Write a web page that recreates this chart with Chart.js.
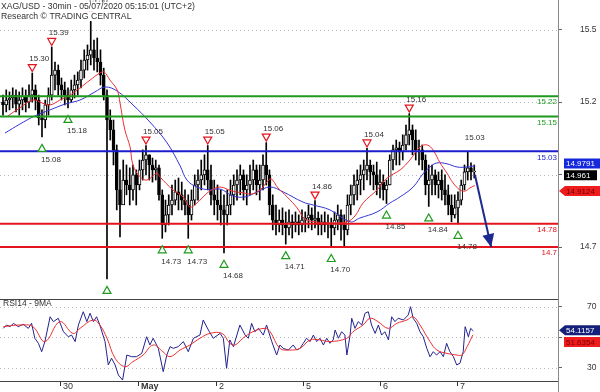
<!DOCTYPE html>
<html>
<head>
<meta charset="utf-8">
<script src="https://cdn.jsdelivr.net/npm/chart.js@4"></script>
<style>
  html, body { margin: 0; padding: 0; background: #fff; }
  #wrap { position: relative; width: 600px; height: 392px; overflow: hidden; background: #fff; }
  canvas { position: absolute; left: 0; }
  #main { top: 0; }
  #rsi { top: 299px; }
</style>
</head>
<body>
<div id="wrap">
  <canvas id="main" width="600" height="299"></canvas>
  <canvas id="rsi" width="600" height="93"></canvas>
</div>
<script>
// hourly candles, index = hours from the left edge
const firstOpen = 15.20;
const highs = [
  15.224,15.242,15.235,15.249,15.242,15.235,15.249,15.242,15.259,15.300,
  15.259,15.224,15.173,15.207,15.249,15.390,15.338,15.328,15.283,15.269,
  15.249,15.276,15.293,15.304,15.345,15.380,15.397,15.500,15.414,15.421,
  15.380,15.317,15.242,15.173,15.138,15.052,14.966,15.000,14.983,14.973,
  14.983,14.966,15.000,15.035,15.050,15.018,15.007,15.000,14.983,14.897,
  14.862,14.880,14.914,14.931,14.938,14.924,14.897,14.880,14.897,14.949,
  14.966,15.000,15.018,15.050,14.983,14.931,14.914,14.897,14.880,14.897,
  14.931,14.949,14.966,14.983,14.966,14.949,14.983,15.000,14.983,14.983,
  15.018,15.060,14.966,14.880,14.845,14.828,14.835,14.821,14.828,14.811,
  14.821,14.811,14.828,14.821,14.845,14.835,14.860,14.821,14.811,14.821,
  14.811,14.800,14.821,14.845,14.828,14.811,14.880,14.914,14.949,14.966,
  14.983,15.000,15.040,15.000,14.983,14.993,14.966,14.949,14.931,15.018,
  15.052,15.069,15.062,15.087,15.121,15.160,15.121,15.104,15.069,15.052,
  15.018,14.983,14.983,14.966,14.959,14.966,14.949,14.914,14.880,14.880,
  14.890,14.931,14.983,15.030,14.990,14.983
];
const lows = [
  15.155,15.166,15.173,15.180,15.166,15.155,15.173,15.166,15.180,15.200,
  15.173,15.121,15.080,15.111,15.155,15.207,15.242,15.224,15.207,15.190,
  15.180,15.200,15.214,15.224,15.249,15.283,15.310,15.328,15.310,15.304,
  15.259,15.207,14.590,15.069,14.983,14.828,14.735,14.862,14.880,14.845,
  14.862,14.845,14.897,14.931,14.949,14.931,14.924,14.931,14.862,14.730,
  14.752,14.776,14.811,14.845,14.828,14.828,14.811,14.730,14.793,14.845,
  14.862,14.897,14.914,14.897,14.845,14.811,14.793,14.776,14.680,14.776,
  14.811,14.845,14.862,14.880,14.862,14.845,14.880,14.897,14.880,14.862,
  14.897,14.914,14.811,14.759,14.742,14.752,14.742,14.710,14.742,14.731,
  14.752,14.742,14.752,14.752,14.766,14.759,14.766,14.742,14.742,14.752,
  14.731,14.700,14.742,14.759,14.724,14.703,14.742,14.811,14.845,14.862,
  14.880,14.897,14.931,14.914,14.897,14.880,14.869,14.862,14.850,14.914,
  14.966,14.983,14.983,15.000,15.035,15.052,15.018,15.000,14.983,14.966,
  14.880,14.840,14.880,14.880,14.869,14.862,14.845,14.811,14.787,14.800,
  14.780,14.845,14.897,14.931,14.931,14.938
];
const closes = [
  15.190,15.207,15.214,15.224,15.193,15.207,15.221,15.200,15.224,15.242,
  15.207,15.145,15.138,15.190,15.224,15.293,15.310,15.259,15.242,15.224,
  15.207,15.242,15.259,15.276,15.310,15.345,15.362,15.380,15.352,15.338,
  15.293,15.224,15.138,15.104,15.035,14.897,14.845,14.931,14.914,14.897,
  14.949,14.914,14.966,15.000,15.018,14.983,14.966,14.973,14.880,14.776,
  14.811,14.845,14.862,14.890,14.880,14.862,14.845,14.811,14.862,14.914,
  14.931,14.949,14.966,14.931,14.880,14.862,14.845,14.828,14.811,14.845,
  14.880,14.914,14.931,14.949,14.897,14.914,14.931,14.966,14.914,14.931,
  14.983,14.949,14.845,14.793,14.776,14.793,14.776,14.766,14.787,14.776,
  14.787,14.776,14.793,14.800,14.811,14.793,14.800,14.776,14.787,14.776,
  14.776,14.766,14.793,14.811,14.776,14.759,14.845,14.880,14.914,14.931,
  14.949,14.966,14.983,14.959,14.949,14.914,14.924,14.897,14.914,15.000,
  15.035,15.042,15.028,15.052,15.087,15.104,15.069,15.035,15.035,15.000,
  14.914,14.931,14.949,14.914,14.931,14.897,14.880,14.845,14.811,14.835,
  14.862,14.914,14.959,14.973,14.959,14.961
];

// moving averages on the price panel
const redMaHour = [1.5,5.2,9.2,12.0,14.5,17.5,20.6,23.7,26.8,29.8,31.1,32.9,35.1,36.0,37.5,39.1,40.0,42.2,44.3,47.4,48.3,52.3,55.4,57.5,59.7,62.2,64.3,66.8,70.5,73.8,76.6,79.1,81.2,82.5,84.6,87.4,90.5,92.9,96.0,101.5,105.8,108.3,110.8,115.1,118.2,122.2,125.2,128.3,130.5,132.3,134.5,136.6,138.5,140.6,142.2,143.7,145.2];
const redMa = [15.152,15.180,15.207,15.197,15.190,15.207,15.224,15.249,15.276,15.300,15.304,15.276,15.242,15.197,15.104,15.045,14.983,14.942,14.931,14.955,14.942,14.897,14.873,14.838,14.852,14.880,14.897,14.907,14.893,14.887,14.883,14.897,14.924,14.935,14.904,14.873,14.835,14.797,14.787,14.783,14.787,14.807,14.852,14.897,14.938,14.966,15.000,15.045,15.052,15.035,14.990,14.955,14.921,14.897,14.893,14.904,14.912];
const blueMaHour = [0.6,5.2,9.8,14.5,19.1,23.7,28.3,31.4,35.1,40.0,45.2,50.5,54.5,56.6,59.7,63.7,66.8,70.8,74.5,78.2,82.2,86.2,92.3,95.4,100.6,106.8,109.8,115.1,119.1,122.2,126.2,129.2,131.4,133.5,136.6,139.7,142.8,145.2];
const blueMa = [15.093,15.124,15.152,15.173,15.193,15.207,15.235,15.252,15.238,15.190,15.131,15.059,14.980,14.931,14.907,14.897,14.900,14.876,14.873,14.890,14.907,14.890,14.855,14.845,14.828,14.787,14.800,14.821,14.852,14.873,14.907,14.952,14.976,14.990,14.987,14.976,14.976,14.980];

// support / resistance levels
const levels = [15.22, 15.15, 15.03, 14.78, 14.70];
const levelLabels = ['15.22', '15.15', '15.03', '14.78', '14.7'];
const levelColors = ['#1f9a1f', '#1f9a1f', '#1c1ccc', '#e3141b', '#e3141b'];

// pivot markers
const highMarkHour = [9, 15, 27, 44, 63, 81, 96, 112, 125, 143];
const highMarkValue = [15.30, 15.39, 15.50, 15.05, 15.05, 15.06, 14.86, 15.04, 15.16, 15.03];
const highMarkTriangle = [1, 1, 1, 1, 1, 1, 1, 1, 1, 0];
const lowMarkHour = [12, 20, 32, 49, 57, 68, 87, 101, 118, 131, 140];
const lowMarkValue = [15.08, 15.18, 14.59, 14.73, 14.73, 14.68, 14.71, 14.70, 14.85, 14.84, 14.78];

// forecast arrow
const arrowHour = [145.2, 150.2];
const arrowValue = [14.949, 14.70];

// price axis
const priceTicks = [15.45, 15.2, 14.95, 14.7];
const priceTickLabels = ['15.5', '15.2', '', '14.7'];
const lastBlueMa = '14.9791';
const lastPrice = '14.961';
const lastRedMa = '14.9124';

// RSI panel
const rsiHour = [0.1,1.1,2.2,3.2,4.7,6.2,7.8,8.8,9.8,10.9,11.9,12.9,14.5,15.5,17.0,18.6,20.1,21.1,22.2,23.2,24.7,25.8,26.8,27.8,28.8,29.8,31.4,32.4,33.4,34.5,35.5,36.8,38.1,39.6,41.1,42.7,44.2,45.2,46.2,47.8,49.3,50.4,51.4,52.4,53.9,55.5,57.0,58.6,60.6,61.6,63.2,64.7,66.8,67.8,68.8,69.8,70.9,72.9,74.5,75.5,76.5,77.5,78.6,80.1,81.1,82.7,84.2,85.2,86.2,87.8,89.3,90.4,91.4,92.4,93.4,94.5,95.5,96.5,97.5,98.6,99.6,100.6,101.6,102.2,103.2,104.2,105.2,105.8,106.8,107.3,108.3,109.3,110.4,111.4,112.4,113.4,114.5,115.5,116.5,117.5,118.6,119.6,120.6,121.6,123.2,124.7,125.4,126.2,127.3,128.3,129.3,130.4,131.4,132.4,133.4,134.5,135.5,136.5,137.5,138.6,139.6,140.6,141.6,142.2,143.2,143.9,144.7];
const rsiValue = [55.8,58.0,56.9,59.1,56.9,58.5,55.8,59.1,49.3,46.0,40.5,47.1,63.4,60.2,62.4,53.6,50.3,51.4,47.1,58.0,66.7,60.2,65.7,60.2,63.4,58.0,47.1,31.8,36.2,31.8,25.2,21.9,38.3,37.2,37.2,39.4,50.3,44.9,49.3,42.7,27.4,38.3,43.8,42.7,43.8,47.1,40.5,49.3,51.4,61.3,54.7,49.3,52.5,49.3,29.6,48.2,43.8,58.0,51.4,49.3,59.1,53.6,55.8,51.4,58.0,47.1,38.3,44.9,42.7,41.6,44.9,41.6,42.7,46.0,49.3,47.1,51.4,47.1,49.3,44.9,49.3,46.0,48.2,54.7,49.3,53.6,51.4,38.3,51.4,62.4,55.8,60.2,58.0,65.7,66.7,58.0,52.5,58.0,51.4,53.6,48.2,63.4,60.2,62.4,61.3,64.6,70.0,62.4,59.1,53.6,50.3,42.7,37.2,40.5,38.3,40.5,37.2,46.0,40.5,37.2,31.8,32.9,40.5,56.9,50.3,55.8,54.1];
const rsiMaHour = [0.1,5.2,9.2,12.9,17.5,21.5,23.7,27.7,29.8,32.0,34.5,37.5,40.0,43.1,46.2,49.2,51.4,54.5,57.5,60.6,63.7,67.4,69.8,71.4,73.8,76.9,80.6,82.2,85.2,88.3,91.4,94.5,97.5,100.6,105.8,107.7,110.8,112.9,115.4,118.5,121.2,124.3,126.2,128.3,131.4,133.5,136.6,139.7,141.2,142.8,144.6];
const rsiMa = [56.9,58.0,56.9,47.1,60.2,52.5,55.8,61.3,58.0,49.3,36.2,30.7,34.0,38.3,44.9,40.5,37.2,41.6,44.9,49.3,52.5,52.5,46.0,44.9,49.3,53.6,55.8,53.6,42.7,41.6,42.7,48.2,48.2,47.1,49.3,53.6,58.0,62.4,60.2,55.8,59.1,61.3,63.4,58.0,47.1,41.6,39.4,38.3,38.3,43.8,51.6];
const rsiTicks = [70, 50, 30];
const rsiTickLabels = ['70', '', '30'];
const lastRsi = '54.1157';
const lastRsiMa = '51.6354';

// time axis
const dayHours = [17.5, 41.5, 65.5, 92.3, 116, 139.7];
const dayLabels = ['30', 'May', '2', '5', '6', '7'];

const xMin = -0.92, xMax = 170.77;
const FONT = '"Liberation Sans", Arial, sans-serif';
Chart.defaults.font.family = FONT;

const opens = closes.map((c, k) => (k === 0 ? firstOpen : closes[k - 1]));
const bodyFill = closes.map((c, k) => (c > opens[k] ? '#ffffff' : '#000000'));

function noPad(s) { s.paddingTop = 0; s.paddingBottom = 0; }

function triangle(ctx, x, y, up, color) {
  ctx.beginPath();
  if (up) { ctx.moveTo(x, y - 3.5); ctx.lineTo(x + 4, y + 3.5); ctx.lineTo(x - 4, y + 3.5); }
  else { ctx.moveTo(x, y + 3.5); ctx.lineTo(x + 4, y - 3.5); ctx.lineTo(x - 4, y - 3.5); }
  ctx.closePath();
  ctx.fillStyle = '#fff';
  ctx.fill();
  ctx.lineWidth = 1.2;
  ctx.strokeStyle = color;
  ctx.stroke();
}

function tag(ctx, left, yc, text, bg, fg, pointed, w) {
  ctx.fillStyle = bg;
  ctx.beginPath();
  if (pointed) {
    ctx.moveTo(left + 1, yc);
    ctx.lineTo(left + 7, yc - 5);
    ctx.lineTo(600, yc - 5);
    ctx.lineTo(600, yc + 5);
    ctx.lineTo(left + 7, yc + 5);
  } else {
    ctx.rect(left + 6, yc - 5, w, 10);
  }
  ctx.closePath();
  ctx.fill();
  ctx.fillStyle = fg;
  ctx.font = '8px ' + FONT;
  ctx.textAlign = 'left';
  ctx.textBaseline = 'middle';
  ctx.fillText(text, left + 8, yc + 0.5);
}

function dotted(ctx, area, y) {
  ctx.save();
  ctx.strokeStyle = '#b8b8b8';
  ctx.lineWidth = 1;
  ctx.setLineDash([1, 3]);
  ctx.beginPath();
  ctx.moveTo(area.left, Math.round(y) + 0.5);
  ctx.lineTo(area.right, Math.round(y) + 0.5);
  ctx.stroke();
  ctx.restore();
}

const mainDecor = {
  id: 'mainDecor',
  beforeDatasetsDraw(chart) {
    const y = chart.scales.y;
    priceTicks.forEach(v => dotted(chart.ctx, chart.chartArea, y.getPixelForValue(v)));
  },
  afterDraw(chart) {
    const ctx = chart.ctx, x = chart.scales.x, y = chart.scales.y, area = chart.chartArea;
    ctx.save();
    // level labels
    ctx.font = '8px ' + FONT;
    ctx.textAlign = 'right';
    ctx.textBaseline = 'middle';
    levels.forEach((v, k) => {
      ctx.fillStyle = levelColors[k];
      ctx.fillText(levelLabels[k], area.right - 1, y.getPixelForValue(v) + 6);
    });
    // pivot markers
    ctx.textAlign = 'center';
    highMarkHour.forEach((h, k) => {
      const px = x.getPixelForValue(h), py = y.getPixelForValue(highMarkValue[k]);
      if (highMarkTriangle[k]) triangle(ctx, px, py - 5, false, '#e3141b');
      ctx.fillStyle = '#333';
      ctx.fillText(highMarkValue[k].toFixed(2), px + 7, py - 14);
    });
    lowMarkHour.forEach((h, k) => {
      const px = x.getPixelForValue(h), py = y.getPixelForValue(lowMarkValue[k]);
      triangle(ctx, px, py + 11, true, '#1f9a1f');
      ctx.fillStyle = '#333';
      ctx.fillText(lowMarkValue[k].toFixed(2), px + 9, py + 23);
    });
    // arrow head
    const pts = chart.getDatasetMeta(chart.data.datasets.length - 1).data;
    const a = pts[0], b = pts[1];
    const ang = Math.atan2(b.y - a.y, b.x - a.x);
    ctx.fillStyle = '#1c2a8f';
    ctx.beginPath();
    ctx.moveTo(b.x, b.y);
    ctx.lineTo(b.x - 13 * Math.cos(ang) + 6 * Math.sin(ang), b.y - 13 * Math.sin(ang) - 6 * Math.cos(ang));
    ctx.lineTo(b.x - 13 * Math.cos(ang) - 6 * Math.sin(ang), b.y - 13 * Math.sin(ang) + 6 * Math.cos(ang));
    ctx.closePath();
    ctx.fill();
    // title
    ctx.font = '8.7px ' + FONT;
    ctx.textAlign = 'left';
    const t1 = 'XAG/USD - 30min - 05/07/2020 05:15:01 (UTC+2)';
    const t2 = 'Research \u00a9 TRADING CENTRAL';
    ctx.fillStyle = '#fff';
    ctx.fillRect(0, 2, ctx.measureText(t1).width + 3, 9.5);
    ctx.fillRect(0, 11.5, ctx.measureText(t2).width + 3, 9.5);
    ctx.fillStyle = '#333';
    ctx.fillText(t1, 1, 7);
    ctx.fillText(t2, 1, 16.5);
    // last value tags
    tag(ctx, area.right, y.getPixelForValue(parseFloat(lastBlueMa)) - 2.7, lastBlueMa, '#1428dc', '#fff', false, 36);
    tag(ctx, area.right, y.getPixelForValue(parseFloat(lastPrice)) + 4, lastPrice, '#000', '#fff', false, 33);
    tag(ctx, area.right, y.getPixelForValue(parseFloat(lastRedMa)) + 5.6, lastRedMa, '#ee1c1c', '#6a0000', true);
    ctx.restore();
  }
};

const levelSets = levels.map((v, k) => ({
  type: 'line',
  data: [{ x: xMin, y: v }, { x: xMax, y: v }],
  borderColor: levelColors[k],
  borderWidth: 2,
  pointRadius: 0,
  order: 2
}));

new Chart(document.getElementById('main'), {
  type: 'bar',
  data: {
    datasets: [
      {
        type: 'bar',
        data: highs.map((h, k) => ({ x: k, y: [lows[k], h] })),
        backgroundColor: '#000',
        barThickness: 1,
        grouped: false,
        order: 10
      },
      {
        type: 'bar',
        data: closes.map((c, k) => ({ x: k, y: [opens[k], c] })),
        backgroundColor: bodyFill,
        borderColor: '#000',
        borderWidth: 1,
        borderSkipped: false,
        barThickness: 3,
        grouped: false,
        order: 9
      },
      {
        type: 'line',
        data: blueMaHour.map((h, k) => ({ x: h, y: blueMa[k] })),
        borderColor: '#3434d6',
        borderWidth: 1,
        pointRadius: 0,
        tension: 0.4,
        order: 5
      },
      {
        type: 'line',
        data: redMaHour.map((h, k) => ({ x: h, y: redMa[k] })),
        borderColor: '#ec3030',
        borderWidth: 1,
        pointRadius: 0,
        tension: 0.4,
        order: 4
      },
      ...levelSets,
      {
        type: 'line',
        data: arrowHour.map((h, k) => ({ x: h, y: arrowValue[k] })),
        borderColor: '#1c2a8f',
        borderWidth: 2,
        pointRadius: 0,
        order: 1
      }
    ]
  },
  options: {
    responsive: false,
    animation: false,
    layout: { padding: 0 },
    plugins: { legend: { display: false }, tooltip: { enabled: false } },
    scales: {
      x: { type: 'linear', min: xMin, max: xMax, offset: false, display: false },
      y: {
        position: 'right',
        min: 14.5207,
        max: 15.552,
        afterBuildTicks: s => { s.ticks = priceTicks.map(v => ({ value: v })); },
        afterFit: s => { s.width = 42; noPad(s); },
        ticks: {
          callback: (v, i) => priceTickLabels[i],
          font: { size: 8.5 },
          color: '#333',
          padding: 18
        },
        grid: { drawOnChartArea: false, tickLength: 4, color: '#666' },
        border: { display: true, color: '#888' }
      }
    }
  },
  plugins: [mainDecor]
});

const rsiDecor = {
  id: 'rsiDecor',
  beforeDatasetsDraw(chart) {
    const y = chart.scales.y;
    rsiTicks.forEach(v => dotted(chart.ctx, chart.chartArea, y.getPixelForValue(v)));
  },
  afterDraw(chart) {
    const ctx = chart.ctx, x = chart.scales.x, y = chart.scales.y, area = chart.chartArea;
    ctx.save();
    ctx.strokeStyle = '#444';
    ctx.lineWidth = 1;
    ctx.beginPath();
    ctx.moveTo(0, area.top + 0.5); ctx.lineTo(area.right, area.top + 0.5);
    ctx.moveTo(0, area.bottom - 0.5); ctx.lineTo(area.right, area.bottom - 0.5);
    ctx.stroke();
    ctx.strokeStyle = '#888';
    ctx.beginPath();
    ctx.moveTo(area.right + 0.5, area.bottom); ctx.lineTo(area.right + 0.5, chart.height);
    ctx.stroke();
    ctx.fillStyle = '#333';
    ctx.font = '8.5px ' + FONT;
    ctx.textAlign = 'left';
    ctx.textBaseline = 'middle';
    ctx.fillText('RSI14 - 9MA', 3, area.top + 5);
    // day ticks
    ctx.strokeStyle = '#333';
    dayHours.forEach((h, k) => {
      const px = Math.round(x.getPixelForValue(h)) + 0.5;
      ctx.beginPath();
      ctx.moveTo(px, area.bottom); ctx.lineTo(px, area.bottom + 4);
      ctx.stroke();
      ctx.font = (dayLabels[k] === 'May' ? 'bold ' : '') + '9px ' + FONT;
      ctx.fillText(dayLabels[k], px + 2.5, area.bottom + 5);
    });
    tag(ctx, area.right, y.getPixelForValue(parseFloat(lastRsi)) - 0.6, lastRsi, '#14207a', '#fff', true);
    tag(ctx, area.right, y.getPixelForValue(parseFloat(lastRsiMa)) + 7.3, lastRsiMa, '#ee1c1c', '#7a0000', false, 36);
    ctx.restore();
  }
};

new Chart(document.getElementById('rsi'), {
  type: 'line',
  data: {
    datasets: [
      {
        data: rsiMaHour.map((h, k) => ({ x: h, y: rsiMa[k] })),
        borderColor: '#ec3030',
        borderWidth: 1,
        pointRadius: 0,
        tension: 0.4,
        order: 1
      },
      {
        data: rsiHour.map((h, k) => ({ x: h, y: rsiValue[k] })),
        borderColor: '#22228e',
        borderWidth: 1,
        pointRadius: 0,
        tension: 0,
        order: 2
      }
    ]
  },
  options: {
    responsive: false,
    animation: false,
    layout: { padding: { bottom: 10 } },
    plugins: { legend: { display: false }, tooltip: { enabled: false } },
    scales: {
      x: { type: 'linear', min: xMin, max: xMax, display: false },
      y: {
        position: 'right',
        min: 20.62,
        max: 75.05,
        afterBuildTicks: s => { s.ticks = rsiTicks.map(v => ({ value: v })); },
        afterFit: s => { s.width = 42; noPad(s); },
        ticks: {
          callback: (v, i) => rsiTickLabels[i],
          font: { size: 8.5 },
          color: '#333',
          padding: 25
        },
        grid: { drawOnChartArea: false, tickLength: 4, color: '#666' },
        border: { display: true, color: '#888' }
      }
    }
  },
  plugins: [rsiDecor]
});
</script>
</body>
</html>
